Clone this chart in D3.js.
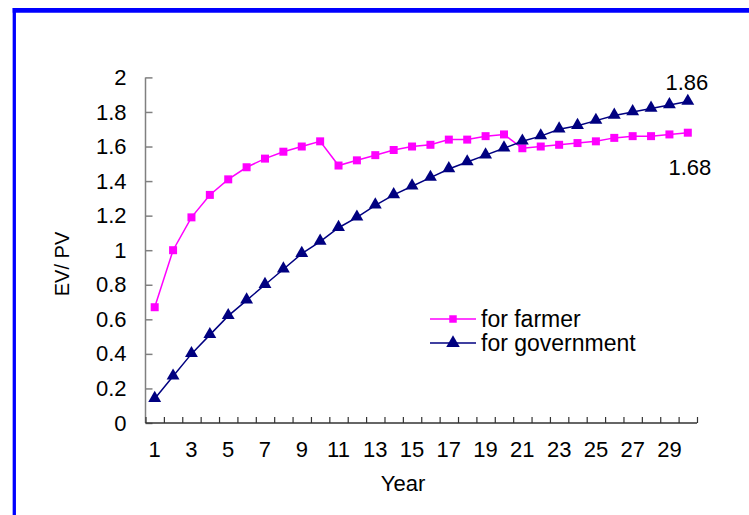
<!DOCTYPE html>
<html>
<head>
<meta charset="utf-8">
<script src="https://cdn.jsdelivr.net/npm/d3@7"></script>
<style>
  body { margin: 0; background: #fff; }
  svg { display: block; font-family: "Liberation Sans", Arial, sans-serif; }
</style>
</head>
<body>
<svg id="chart"></svg>
<script>
// data
var years = d3.range(1, 31);
var farmer = [0.67, 1.00, 1.19, 1.32, 1.41, 1.48, 1.53, 1.57, 1.60, 1.63,
              1.49, 1.52, 1.55, 1.58, 1.60, 1.61, 1.64, 1.64, 1.66, 1.67,
              1.59, 1.60, 1.61, 1.62, 1.63, 1.65, 1.66, 1.66, 1.67, 1.68];
var government = [0.14, 0.27, 0.40, 0.51, 0.62, 0.71, 0.80, 0.89, 0.98, 1.05,
                  1.13, 1.19, 1.26, 1.32, 1.37, 1.42, 1.47, 1.51, 1.55, 1.59,
                  1.63, 1.66, 1.70, 1.72, 1.75, 1.78, 1.80, 1.82, 1.84, 1.86];
var yTicks = [0, 0.2, 0.4, 0.6, 0.8, 1, 1.2, 1.4, 1.6, 1.8, 2];
var xLabels = [1, 3, 5, 7, 9, 11, 13, 15, 17, 19, 21, 23, 25, 27, 29];
var seriesNames = ["for farmer", "for government"];
var endLabels = ["1.86", "1.68"];

var W = 749, H = 515;
var margin = {top: 77.4, right: 52, bottom: 92, left: 145.5};
var width = W - margin.left - margin.right;
var height = H - margin.top - margin.bottom;

var svg = d3.select("#chart").attr("width", W).attr("height", H);

// blue frame (only top and left edges visible)
svg.append("line").attr("x1", 12.7).attr("x2", W).attr("y1", 10.3).attr("y2", 10.3)
    .attr("stroke", "#0000ff").attr("stroke-width", 4.7);
svg.append("line").attr("x1", 14.3).attr("x2", 14.3).attr("y1", 8).attr("y2", H)
    .attr("stroke", "#0000ff").attr("stroke-width", 3.3);

var g = svg.append("g").attr("transform", "translate(" + margin.left + "," + margin.top + ")");

var x = d3.scaleBand().domain(years).range([0, width]).paddingInner(0).paddingOuter(0);
var xEdge = d3.scaleLinear().domain([0, years.length]).range([0, width]);
var y = d3.scaleLinear().domain([0, 2]).range([height, 0]);
var cx = function(d) { return x(d) + x.bandwidth() / 2; };

// y axis, ticks pointing inside
var yAxis = g.append("g")
    .call(d3.axisLeft(y).tickValues(yTicks).tickSize(-7).tickPadding(19)
        .tickFormat(function(d) { return String(+d.toFixed(1)); }));
yAxis.select(".domain").attr("stroke", "#808080").attr("stroke-width", 1.5).attr("d", "M0," + height + "V0");
yAxis.selectAll(".tick line").attr("stroke", "#808080").attr("stroke-width", 1.5);
yAxis.selectAll("text").attr("font-size", 22).attr("fill", "#000");

// x axis: tick marks between categories
var xAxis = g.append("g").attr("transform", "translate(0," + height + ")")
    .call(d3.axisBottom(xEdge).ticks(30).tickSize(-6).tickFormat(""));
xAxis.select(".domain").attr("stroke", "#333").attr("stroke-width", 1.5).attr("d", "M0,0H" + width);
xAxis.selectAll(".tick line").attr("stroke", "#333").attr("stroke-width", 1.2);

var xLab = g.append("g").attr("transform", "translate(0," + height + ")")
    .call(d3.axisBottom(x).tickValues(xLabels).tickSize(0).tickPadding(18));
xLab.select(".domain").remove();
xLab.selectAll("text").attr("font-size", 22).attr("fill", "#000");

// axis titles
svg.append("text")
    .attr("x", 403).attr("y", 491)
    .attr("text-anchor", "middle").attr("font-size", 22)
    .text("Year");
svg.append("text")
    .attr("text-anchor", "middle").attr("font-size", 20)
    .attr("transform", "translate(69,264)rotate(-90)")
    .text("EV/ PV");

// lines
var line = d3.line().x(function(d) { return cx(d.year); }).y(function(d) { return y(d.v); });
var farmerData = years.map(function(yr, i) { return {year: yr, v: farmer[i]}; });
var govData = years.map(function(yr, i) { return {year: yr, v: government[i]}; });

g.append("path").datum(farmerData).attr("d", line)
    .attr("fill", "none").attr("stroke", "#ff00ff").attr("stroke-width", 1.5);
g.append("path").datum(govData).attr("d", line)
    .attr("fill", "none").attr("stroke", "#000080").attr("stroke-width", 1.5);

g.selectAll("path.farmer").data(farmerData).enter().append("path")
    .attr("class", "farmer")
    .attr("d", d3.symbol().type(d3.symbolSquare).size(64))
    .attr("fill", "#ff00ff")
    .attr("transform", function(d) { return "translate(" + cx(d.year) + "," + y(d.v) + ")"; });

g.selectAll("path.gov").data(govData).enter().append("path")
    .attr("class", "gov")
    .attr("d", d3.symbol().type(d3.symbolTriangle).size(72))
    .attr("fill", "#000080")
    .attr("transform", function(d) { return "translate(" + cx(d.year) + "," + (y(d.v) - 0.5) + ")"; });

// end values
var last = years.length - 1;
g.append("text")
    .attr("x", cx(years[last]) - 1).attr("y", y(government[last]) - 12)
    .attr("text-anchor", "middle").attr("font-size", 22)
    .text(endLabels[0]);
g.append("text")
    .attr("x", cx(years[last]) + 2).attr("y", y(farmer[last]) + 42)
    .attr("text-anchor", "middle").attr("font-size", 22)
    .text(endLabels[1]);

// legend
var legend = svg.append("g").attr("transform", "translate(430,319)");
var rows = legend.selectAll("g").data(seriesNames).enter().append("g")
    .attr("transform", function(d, i) { return "translate(0," + i * 24 + ")"; });
rows.append("line").attr("x1", 0).attr("x2", 46).attr("y1", 0).attr("y2", 0)
    .attr("stroke", function(d, i) { return i ? "#000080" : "#ff00ff"; })
    .attr("stroke-width", 1.5);
rows.append("path")
    .attr("transform", "translate(23,0)")
    .attr("d", function(d, i) {
        return d3.symbol().type(i ? d3.symbolTriangle : d3.symbolSquare).size(i ? 80 : 56)();
    })
    .attr("fill", function(d, i) { return i ? "#000080" : "#ff00ff"; });
rows.append("text")
    .attr("x", 51).attr("y", 0).attr("dy", "0.35em")
    .attr("font-size", 23)
    .text(function(d) { return d; });
</script>
</body>
</html>
